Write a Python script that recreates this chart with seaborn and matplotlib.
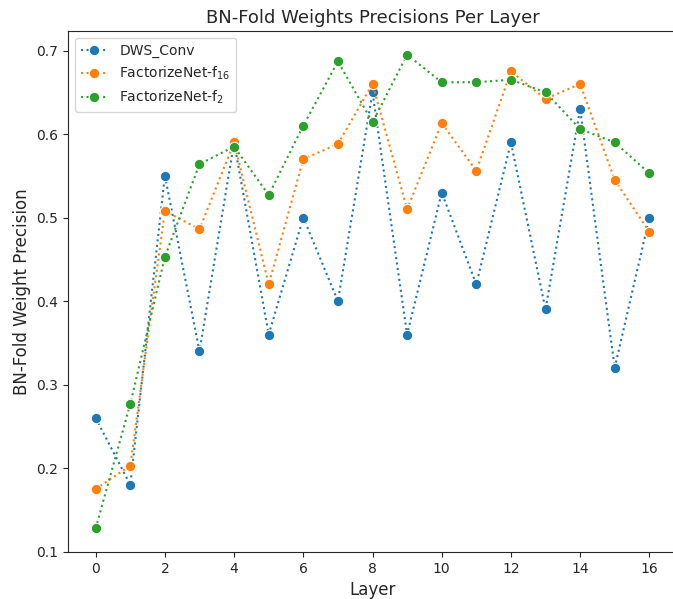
import numpy as np
import pandas as pd
import matplotlib
matplotlib.use("Agg")
import matplotlib.pyplot as plt
import seaborn as sns

layers = list(range(17))
dws_conv = [0.26, 0.18, 0.55, 0.34, 0.59, 0.36, 0.50, 0.40, 0.65, 0.36,
            0.53, 0.42, 0.59, 0.39, 0.63, 0.32, 0.50]
factorize_f16 = [0.175, 0.203, 0.508, 0.486, 0.590, 0.420, 0.570, 0.588, 0.660,
                 0.510, 0.613, 0.556, 0.675, 0.642, 0.660, 0.545, 0.483]
factorize_f2 = [0.128, 0.277, 0.453, 0.564, 0.585, 0.527, 0.610, 0.687, 0.614,
                0.695, 0.662, 0.662, 0.665, 0.650, 0.606, 0.590, 0.553]
series_names = ["DWS_Conv", r"FactorizeNet-f$_{16}$", r"FactorizeNet-f$_{2}$"]

df = pd.DataFrame({
    "Layer": layers * 3,
    "Precision": dws_conv + factorize_f16 + factorize_f2,
    "Model": [series_names[0]] * 17 + [series_names[1]] * 17 + [series_names[2]] * 17,
})

sns.set_style("ticks")
fig = plt.figure(figsize=(6.73, 5.99), dpi=100)
ax = fig.add_axes([68 / 673, 47 / 599, (677 - 68) / 673, (552 - 31) / 599])

palette = ["#1f77b4", "#ff7f0e", "#2ca02c"]
sns.lineplot(data=df, x="Layer", y="Precision", hue="Model", palette=palette,
             marker="o", markersize=7.5, linestyle=":", linewidth=1.5, ax=ax)

ax.set_xticks(range(0, 17, 2))
ax.set_title("BN-Fold Weights Precisions Per Layer", fontsize=13)
ax.set_xlabel("Layer", fontsize=12)
ax.set_ylabel("BN-Fold Weight Precision", fontsize=12)
ax.tick_params(labelsize=10)
leg = ax.legend(loc="upper left", fontsize=10)
for line in leg.get_lines():
    line.set_linestyle(":")

fig.savefig("out.png", dpi=100)
